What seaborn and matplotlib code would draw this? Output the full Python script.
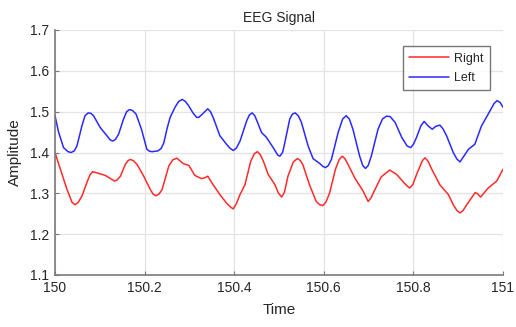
import numpy as np
import pandas as pd
import matplotlib
matplotlib.use("Agg")
import matplotlib.pyplot as plt
import seaborn as sns

# ---- data ----
left_time = [150.000, 150.008, 150.019, 150.029, 150.036, 150.043, 150.049, 150.060, 150.067, 150.074,
             150.080, 150.086, 150.101, 150.116, 150.123, 150.129, 150.135, 150.142, 150.153, 150.160,
             150.166, 150.173, 150.181, 150.193, 150.205, 150.211, 150.217, 150.230, 150.237, 150.243,
             150.250, 150.257, 150.268, 150.276, 150.284, 150.291, 150.298, 150.308, 150.316, 150.321,
             150.327, 150.341, 150.347, 150.353, 150.368, 150.383, 150.391, 150.398, 150.405, 150.413,
             150.428, 150.434, 150.440, 150.446, 150.452, 150.461, 150.472, 150.487, 150.497, 150.502,
             150.508, 150.513, 150.524, 150.530, 150.536, 150.543, 150.550, 150.565, 150.576, 150.591,
             150.598, 150.604, 150.610, 150.617, 150.632, 150.642, 150.650, 150.657, 150.665, 150.680,
             150.687, 150.693, 150.699, 150.706, 150.721, 150.731, 150.740, 150.748, 150.759, 150.774,
             150.786, 150.794, 150.800, 150.807, 150.817, 150.824, 150.832, 150.842, 150.850, 150.859,
             150.866, 150.874, 150.889, 150.897, 150.904, 150.912, 150.923, 150.937, 150.952, 150.971,
             150.980, 150.987, 150.994, 151.000]
left_amp = [1.490, 1.450, 1.412, 1.402, 1.400, 1.404, 1.416, 1.465, 1.490, 1.497,
            1.496, 1.490, 1.461, 1.441, 1.431, 1.428, 1.432, 1.445, 1.482, 1.500,
            1.505, 1.503, 1.494, 1.457, 1.408, 1.403, 1.402, 1.404, 1.410, 1.424,
            1.458, 1.486, 1.511, 1.525, 1.530, 1.525, 1.515, 1.497, 1.486, 1.486,
            1.492, 1.507, 1.500, 1.486, 1.441, 1.420, 1.410, 1.405, 1.411, 1.428,
            1.478, 1.492, 1.497, 1.490, 1.474, 1.449, 1.437, 1.412, 1.394, 1.391,
            1.400, 1.424, 1.482, 1.494, 1.497, 1.490, 1.474, 1.416, 1.385, 1.373,
            1.366, 1.363, 1.368, 1.383, 1.449, 1.482, 1.490, 1.482, 1.457, 1.391,
            1.368, 1.361, 1.368, 1.391, 1.457, 1.482, 1.489, 1.488, 1.474, 1.437,
            1.416, 1.412, 1.420, 1.437, 1.466, 1.476, 1.466, 1.457, 1.464, 1.467,
            1.458, 1.441, 1.400, 1.384, 1.377, 1.390, 1.408, 1.420, 1.465, 1.502,
            1.520, 1.527, 1.522, 1.511]

right_time = [150.000, 150.012, 150.027, 150.038, 150.045, 150.052, 150.060, 150.071, 150.078, 150.084,
              150.097, 150.112, 150.124, 150.133, 150.139, 150.146, 150.157, 150.163, 150.168, 150.175,
              150.183, 150.198, 150.213, 150.219, 150.225, 150.232, 150.239, 150.254, 150.263, 150.272,
              150.286, 150.299, 150.312, 150.327, 150.334, 150.341, 150.353, 150.368, 150.383, 150.392,
              150.398, 150.405, 150.413, 150.424, 150.437, 150.445, 150.452, 150.458, 150.465, 150.476,
              150.491, 150.499, 150.506, 150.512, 150.520, 150.532, 150.541, 150.547, 150.553, 150.568,
              150.583, 150.591, 150.598, 150.605, 150.613, 150.626, 150.634, 150.641, 150.647, 150.654,
              150.669, 150.688, 150.699, 150.706, 150.714, 150.728, 150.747, 150.763, 150.778, 150.786,
              150.792, 150.799, 150.807, 150.820, 150.826, 150.833, 150.841, 150.859, 150.878, 150.889,
              150.897, 150.904, 150.911, 150.919, 150.938, 150.944, 150.950, 150.967, 150.986, 151.000]
right_amp = [1.400, 1.359, 1.309, 1.278, 1.272, 1.278, 1.293, 1.326, 1.345, 1.353,
             1.349, 1.344, 1.336, 1.330, 1.333, 1.342, 1.371, 1.380, 1.383, 1.380,
             1.371, 1.342, 1.309, 1.298, 1.294, 1.298, 1.309, 1.367, 1.382, 1.386,
             1.373, 1.368, 1.344, 1.336, 1.338, 1.342, 1.321, 1.297, 1.276, 1.266,
             1.262, 1.275, 1.297, 1.321, 1.379, 1.397, 1.402, 1.395, 1.379, 1.346,
             1.321, 1.300, 1.291, 1.302, 1.342, 1.377, 1.385, 1.381, 1.371, 1.321,
             1.280, 1.272, 1.270, 1.279, 1.301, 1.359, 1.382, 1.391, 1.385, 1.371,
             1.338, 1.305, 1.280, 1.290, 1.309, 1.340, 1.357, 1.346, 1.327, 1.318,
             1.313, 1.322, 1.346, 1.380, 1.387, 1.378, 1.359, 1.321, 1.297, 1.272,
             1.258, 1.252, 1.258, 1.272, 1.302, 1.298, 1.291, 1.313, 1.330, 1.359]

x_ticks = [150, 150.2, 150.4, 150.6, 150.8, 151]
x_tick_labels = ["150", "150.2", "150.4", "150.6", "150.8", "151"]
y_ticks = [1.1, 1.2, 1.3, 1.4, 1.5, 1.6, 1.7]
y_tick_labels = ["1.1", "1.2", "1.3", "1.4", "1.5", "1.6", "1.7"]

df = pd.concat([
    pd.DataFrame({"Time": right_time, "Amplitude": right_amp, "Channel": "Right"}),
    pd.DataFrame({"Time": left_time, "Amplitude": left_amp, "Channel": "Left"}),
], ignore_index=True)

sns.set_style("whitegrid")
plt.rcParams["font.family"] = ["Liberation Sans", "DejaVu Sans"]

fig = plt.figure(figsize=(5.16, 3.27), dpi=100)
ax = fig.add_axes([55 / 516, 1 - 275 / 327, (503 - 55) / 516, (275 - 30) / 327])

sns.lineplot(data=df, x="Time", y="Amplitude", hue="Channel", sort=False,
             palette={"Right": "#ff2a2a", "Left": "#2a2aff"}, linewidth=1.1, ax=ax,
             estimator=None)

ax.set_xlim(150, 151)
ax.set_ylim(1.1, 1.7)
ax.set_xticks(x_ticks)
ax.set_xticklabels(x_tick_labels)
ax.set_yticks(y_ticks)
ax.set_yticklabels(y_tick_labels)
ax.grid(True, color="#e3e3e3", linewidth=0.9)
for s in ["top", "right"]:
    ax.spines[s].set_visible(False)
for s in ["left", "bottom"]:
    ax.spines[s].set_visible(True)
    ax.spines[s].set_color("#7a7a7a")
    ax.spines[s].set_linewidth(1.2)
ax.tick_params(axis="both", direction="in", length=3, width=0.8, color="#7a7a7a",
               labelsize=10, labelcolor="#262626", left=True, bottom=True, pad=4)

ax.set_title("EEG Signal", fontsize=10, color="#262626", pad=6)
ax.set_xlabel("Time", fontsize=11, color="#262626", labelpad=6)
ax.set_ylabel("Amplitude", fontsize=11, color="#262626", labelpad=6)

leg = ax.legend(loc="upper right", bbox_to_anchor=(0.971, 0.933), frameon=True,
                fancybox=False, fontsize=9, handlelength=3.2, borderpad=0.5,
                labelspacing=0.6, handletextpad=0.4, borderaxespad=0.0, title=None)
leg.get_frame().set_edgecolor("#555555")
leg.get_frame().set_linewidth(1.0)
for line in leg.get_lines():
    line.set_linewidth(1.1)

fig.savefig("out.png", dpi=100)
